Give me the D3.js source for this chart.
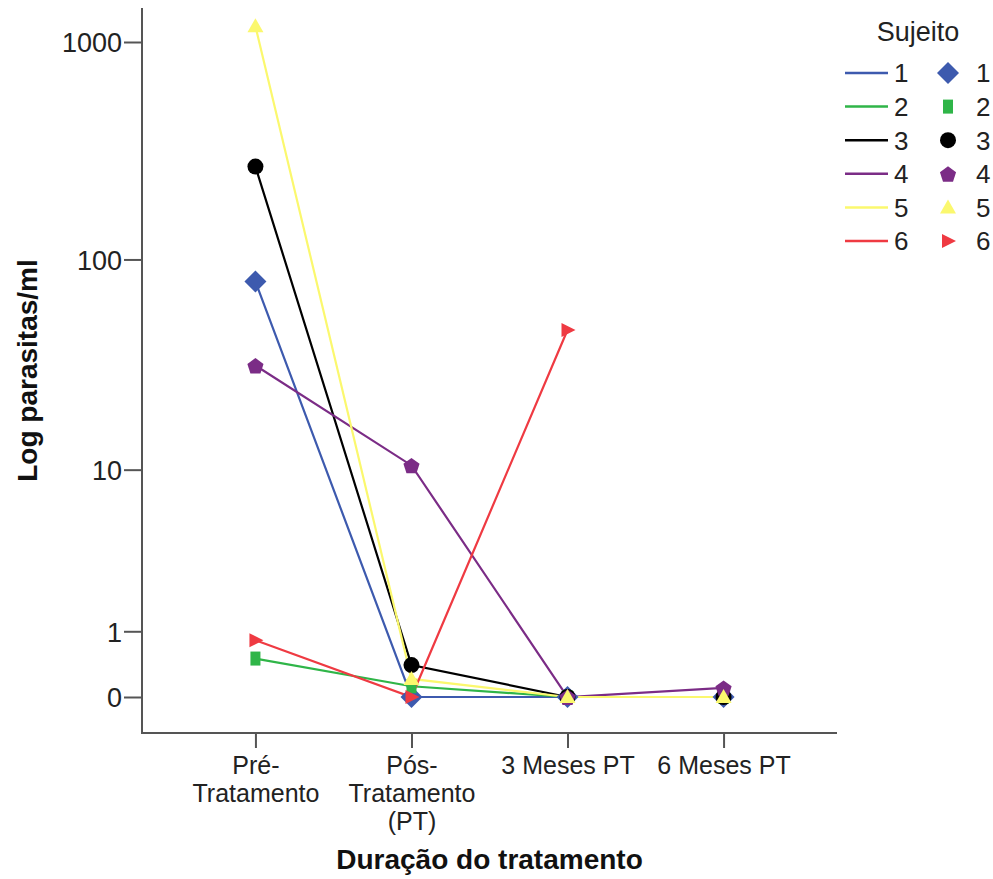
<!DOCTYPE html>
<html>
<head>
<meta charset="utf-8">
<script src="https://cdn.jsdelivr.net/npm/d3@7"></script>
<style>
  html, body { margin: 0; padding: 0; background: #fff; }
  svg { display: block; font-family: "Liberation Sans", Arial, sans-serif; }
</style>
</head>
<body>
<svg id="chart" width="993" height="879"></svg>
<script>
// ---- data ----
const categories = ["Pré-Tratamento", "Pós-Tratamento (PT)", "3 Meses PT", "6 Meses PT"];
const categoryTickLines = [["Pré-", "Tratamento"], ["Pós-", "Tratamento", "(PT)"], ["3 Meses PT"], ["6 Meses PT"]];
const subjects = ["1", "2", "3", "4", "5", "6"];
const subject1 = [79, 0, 0, 0];
const subject2 = [0.5, 0.12, 0, 0];
const subject3 = [268, 0.4, 0, 0];
const subject4 = [32, 10.5, 0, 0.1];
const subject5 = [1180, 0.21, 0, 0];
const subject6 = [0.82, 0, 47, null];
const yTickValues = [0, 1, 10, 100, 1000];
const xTitle = "Duração do tratamento";
const yTitle = "Log parasitas/ml";
const legendTitle = "Sujeito";

const seriesValues = [subject1, subject2, subject3, subject4, subject5, subject6];
const colors = ["#3D5AAE", "#2FB548", "#000000", "#7B2C86", "#FBF86E", "#EF3A42"];
const shapes = ["diamond", "rect", "circle", "pentagon", "triangle", "tri-right"];

// ---- layout ----
const svg = d3.select("#chart");
const frame = { left: 142, right: 837, top: 8, bottom: 733 };

const x = d3.scalePoint().domain(categories).range([frame.left, frame.right]).padding(0.727);
const y = d3.scaleSymlog().constant(1).domain([0, 1000]).range([697, 42]);

const axisColor = "#555";
const textColor = "#222";

// axes
const yAxis = d3.axisLeft(y).tickValues(yTickValues).tickFormat(d3.format("d")).tickSize(18).tickPadding(2);
const gy = svg.append("g").attr("transform", `translate(${frame.left},0)`).call(yAxis);
gy.select(".domain").remove();
gy.selectAll(".tick line").attr("stroke", axisColor).attr("stroke-width", 2);
gy.selectAll(".tick text").attr("fill", textColor).style("font-size", "27px").attr("dy", "0.36em");

const xAxis = d3.axisBottom(x).tickSize(15).tickFormat("");
const gx = svg.append("g").attr("transform", `translate(0,${frame.bottom})`).call(xAxis);
gx.select(".domain").remove();
gx.selectAll(".tick line").attr("stroke", axisColor).attr("stroke-width", 2);
gx.selectAll(".tick").each(function (d, i) {
  const t = d3.select(this).append("text")
    .attr("fill", textColor).attr("text-anchor", "middle")
    .style("font-size", "25px");
  categoryTickLines[i].forEach((ln, j) => {
    t.append("tspan").attr("x", 0).attr("y", 41 + j * 28).text(ln);
  });
});

// frame lines
svg.append("line").attr("x1", frame.left).attr("x2", frame.left).attr("y1", frame.top).attr("y2", frame.bottom)
  .attr("stroke", axisColor).attr("stroke-width", 2);
svg.append("line").attr("x1", frame.left - 1).attr("x2", frame.right).attr("y1", frame.bottom).attr("y2", frame.bottom)
  .attr("stroke", axisColor).attr("stroke-width", 2);

// titles
svg.append("text").attr("x", (frame.left + frame.right) / 2).attr("y", 869)
  .attr("text-anchor", "middle").attr("font-weight", "bold").style("font-size", "28px")
  .attr("fill", "#111").text(xTitle);
svg.append("text").attr("transform", `translate(37,${(frame.top + frame.bottom) / 2}) rotate(-90)`)
  .attr("text-anchor", "middle").attr("font-weight", "bold").style("font-size", "28px")
  .attr("fill", "#111").text(yTitle);

// marker drawing
function pentagonPath(r) {
  const pts = d3.range(5).map(k => {
    const a = -Math.PI / 2 + k * 2 * Math.PI / 5;
    return [r * Math.cos(a), r * Math.sin(a)];
  });
  return d3.line()(pts) + "Z";
}
function drawMarker(g, shape, color, cx, cy) {
  if (shape === "diamond") {
    g.append("path").attr("d", "M0,-11L11,0L0,11L-11,0Z").attr("transform", `translate(${cx},${cy})`).attr("fill", color);
  } else if (shape === "rect") {
    g.append("rect").attr("x", cx - 5).attr("y", cy - 7).attr("width", 10).attr("height", 14).attr("fill", color);
  } else if (shape === "circle") {
    g.append("circle").attr("cx", cx).attr("cy", cy).attr("r", 8).attr("fill", color);
  } else if (shape === "pentagon") {
    g.append("path").attr("d", pentagonPath(8.5)).attr("transform", `translate(${cx},${cy + 1})`).attr("fill", color);
  } else if (shape === "triangle") {
    g.append("path").attr("d", "M0,-8L8,6L-8,6Z").attr("transform", `translate(${cx},${cy})`).attr("fill", color);
  } else if (shape === "tri-right") {
    g.append("path").attr("d", "M-6,-7L8,0L-6,7Z").attr("transform", `translate(${cx},${cy})`).attr("fill", color);
  }
}

// lines
const line = d3.line()
  .defined(d => d.v !== null)
  .x(d => x(d.c))
  .y(d => y(d.v));
const gLines = svg.append("g");
seriesValues.forEach((vals, si) => {
  const pts = vals.map((v, i) => ({ c: categories[i], v }));
  gLines.append("path").attr("d", line(pts)).attr("fill", "none")
    .attr("stroke", colors[si]).attr("stroke-width", 2.2);
});
// markers
const gMarks = svg.append("g");
seriesValues.forEach((vals, si) => {
  vals.forEach((v, i) => {
    if (v === null) return;
    drawMarker(gMarks, shapes[si], colors[si], x(categories[i]), y(v));
  });
});

// legend
const gLeg = svg.append("g");
gLeg.append("text").attr("x", 918).attr("y", 41).attr("text-anchor", "middle")
  .style("font-size", "27px").attr("fill", textColor).text(legendTitle);
subjects.forEach((s, i) => {
  const ry = 73 + i * 33.6;
  gLeg.append("line").attr("x1", 845).attr("x2", 888).attr("y1", ry).attr("y2", ry)
    .attr("stroke", colors[i]).attr("stroke-width", 2.5);
  gLeg.append("text").attr("x", 894).attr("y", ry).attr("dy", "0.36em")
    .style("font-size", "26px").attr("fill", textColor).text(s);
  drawMarker(gLeg, shapes[i], colors[i], 948, ry);
  gLeg.append("text").attr("x", 976).attr("y", ry).attr("dy", "0.36em")
    .style("font-size", "26px").attr("fill", textColor).text(s);
});
</script>
</body>
</html>
